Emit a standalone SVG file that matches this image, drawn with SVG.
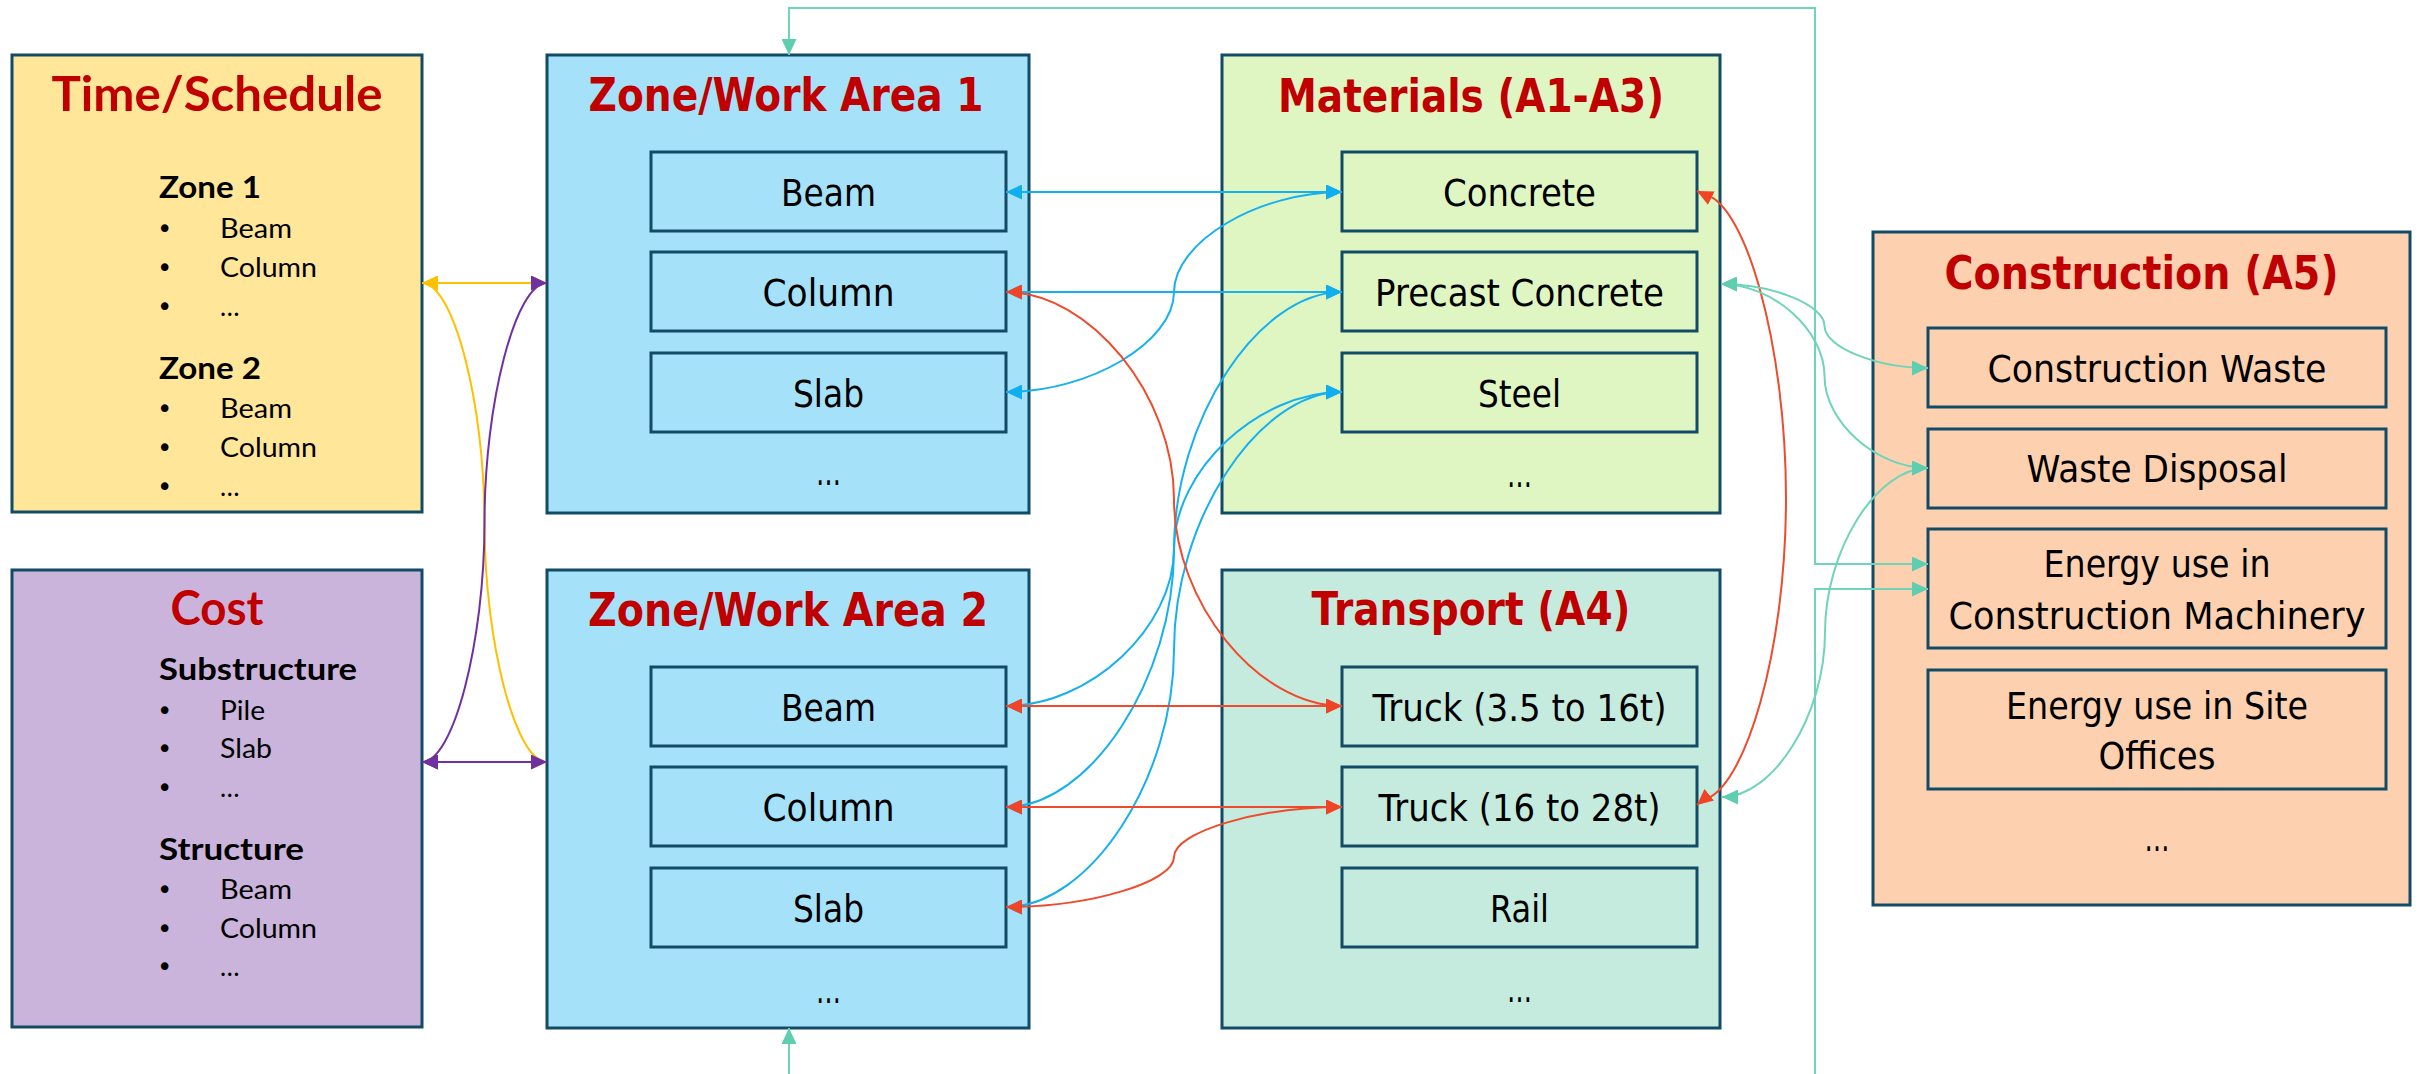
<svg xmlns="http://www.w3.org/2000/svg" width="2423" height="1074" viewBox="0 0 2423 1074">
  <defs>
    <style>
      .box { stroke: #124B66; stroke-width: 3; }
      .t-time { fill: #FFE699; }
      .t-cost { fill: #CAB4DB; }
      .t-zone { fill: #A5E2F9; }
      .t-mat { fill: #DFF6C3; }
      .t-trn { fill: #C5EBDF; }
      .t-con { fill: #FDD1AF; }
      .ttl { font-family: "DejaVu Sans", sans-serif; font-weight: bold; font-size: 46px; fill: #C00000; text-anchor: middle; }
      .ltl { font-family: Lato, "Open Sans", sans-serif; font-weight: bold; font-size: 47px; fill: #C00000; text-anchor: middle; }
      .lbl { font-family: "DejaVu Sans", sans-serif; font-size: 37px; fill: #000; text-anchor: middle; }
      .hd { font-family: Lato, "Open Sans", sans-serif; font-weight: bold; font-size: 30px; fill: #000; }
      .li { font-family: Lato, "Open Sans", sans-serif; font-size: 26px; fill: #000; }
      .bul { font-family: "DejaVu Sans", sans-serif; font-size: 26px; fill: #000; }
      .conn { fill: none; stroke-width: 2; }
      .blue { stroke: #15B0EE; }
      .red { stroke: #EF4A2B; }
      .teal { stroke: #70D4BA; }
      .yel { stroke: #FFC000; }
      .pur { stroke: #7030A0; }
    </style>
    <marker id="a-blue" viewBox="0 0 16 15" refX="16" refY="7.5" markerWidth="16" markerHeight="15" markerUnits="userSpaceOnUse" orient="auto-start-reverse"><path d="M0,0 L16,7.5 L0,15 z" fill="#0FAEEE"/></marker>
    <marker id="a-red" viewBox="0 0 16 15" refX="16" refY="7.5" markerWidth="16" markerHeight="15" markerUnits="userSpaceOnUse" orient="auto-start-reverse"><path d="M0,0 L16,7.5 L0,15 z" fill="#EF4426"/></marker>
    <marker id="a-teal" viewBox="0 0 16 15" refX="16" refY="7.5" markerWidth="16" markerHeight="15" markerUnits="userSpaceOnUse" orient="auto-start-reverse"><path d="M0,0 L16,7.5 L0,15 z" fill="#5ECDB0"/></marker>
    <marker id="a-yel" viewBox="0 0 16 15" refX="16" refY="7.5" markerWidth="16" markerHeight="15" markerUnits="userSpaceOnUse" orient="auto-start-reverse"><path d="M0,0 L16,7.5 L0,15 z" fill="#FFC000"/></marker>
    <marker id="a-pur" viewBox="0 0 16 15" refX="16" refY="7.5" markerWidth="16" markerHeight="15" markerUnits="userSpaceOnUse" orient="auto-start-reverse"><path d="M0,0 L16,7.5 L0,15 z" fill="#7030A0"/></marker>
  </defs>

  <rect width="2423" height="1074" fill="#FFFFFF"/>

  <!-- Time / schedule -->
  <g id="time-schedule">
    <rect class="box t-time" x="12" y="55" width="410" height="457"/>
    <text class="ltl" x="217" y="111" textLength="331" lengthAdjust="spacingAndGlyphs">Time/Schedule</text>
    <text class="hd" x="159" y="198" textLength="102" lengthAdjust="spacingAndGlyphs">Zone 1</text>
    <text class="bul" x="157" y="238">•</text><text class="li" x="220" y="238" textLength="72" lengthAdjust="spacingAndGlyphs">Beam</text>
    <text class="bul" x="157" y="277">•</text><text class="li" x="220" y="277" textLength="97" lengthAdjust="spacingAndGlyphs">Column</text>
    <text class="bul" x="157" y="316">•</text><text class="li" x="220" y="316">…</text>
    <text class="hd" x="159" y="379" textLength="102" lengthAdjust="spacingAndGlyphs">Zone 2</text>
    <text class="bul" x="157" y="418">•</text><text class="li" x="220" y="418" textLength="72" lengthAdjust="spacingAndGlyphs">Beam</text>
    <text class="bul" x="157" y="457">•</text><text class="li" x="220" y="457" textLength="97" lengthAdjust="spacingAndGlyphs">Column</text>
    <text class="bul" x="157" y="496">•</text><text class="li" x="220" y="496">…</text>
  </g>

  <!-- Cost -->
  <g id="cost">
    <rect class="box t-cost" x="12" y="570" width="410" height="457"/>
    <text class="ltl" x="217" y="625" textLength="93" lengthAdjust="spacingAndGlyphs">Cost</text>
    <text class="hd" x="159" y="680" textLength="198" lengthAdjust="spacingAndGlyphs">Substructure</text>
    <text class="bul" x="157" y="720">•</text><text class="li" x="220" y="720" textLength="45" lengthAdjust="spacingAndGlyphs">Pile</text>
    <text class="bul" x="157" y="758">•</text><text class="li" x="220" y="758" textLength="52" lengthAdjust="spacingAndGlyphs">Slab</text>
    <text class="bul" x="157" y="797">•</text><text class="li" x="220" y="797">…</text>
    <text class="hd" x="159" y="860" textLength="145" lengthAdjust="spacingAndGlyphs">Structure</text>
    <text class="bul" x="157" y="899">•</text><text class="li" x="220" y="899" textLength="72" lengthAdjust="spacingAndGlyphs">Beam</text>
    <text class="bul" x="157" y="938">•</text><text class="li" x="220" y="938" textLength="97" lengthAdjust="spacingAndGlyphs">Column</text>
    <text class="bul" x="157" y="976">•</text><text class="li" x="220" y="976">…</text>
  </g>

  <!-- Zone / work area 1 -->
  <g id="zone-1">
    <rect class="box t-zone" x="547" y="55" width="482" height="458"/>
    <text class="ttl" x="786" y="111" textLength="395" lengthAdjust="spacingAndGlyphs">Zone/Work Area 1</text>
    <rect class="box t-zone" x="651" y="152" width="355" height="79"/>
    <text class="lbl" x="828.5" y="206" textLength="95" lengthAdjust="spacingAndGlyphs">Beam</text>
    <rect class="box t-zone" x="651" y="252" width="355" height="79"/>
    <text class="lbl" x="828.5" y="306" textLength="132" lengthAdjust="spacingAndGlyphs">Column</text>
    <rect class="box t-zone" x="651" y="353" width="355" height="79"/>
    <text class="lbl" x="828.5" y="407" textLength="71" lengthAdjust="spacingAndGlyphs">Slab</text>
    <text class="lbl" x="828.5" y="485" textLength="25" lengthAdjust="spacingAndGlyphs">…</text>
  </g>

  <!-- Zone / work area 2 -->
  <g id="zone-2">
    <rect class="box t-zone" x="547" y="570" width="482" height="458"/>
    <text class="ttl" x="788" y="626" textLength="400" lengthAdjust="spacingAndGlyphs">Zone/Work Area 2</text>
    <rect class="box t-zone" x="651" y="667" width="355" height="79"/>
    <text class="lbl" x="828.5" y="721" textLength="95" lengthAdjust="spacingAndGlyphs">Beam</text>
    <rect class="box t-zone" x="651" y="767" width="355" height="79"/>
    <text class="lbl" x="828.5" y="821" textLength="132" lengthAdjust="spacingAndGlyphs">Column</text>
    <rect class="box t-zone" x="651" y="868" width="355" height="79"/>
    <text class="lbl" x="828.5" y="922" textLength="71" lengthAdjust="spacingAndGlyphs">Slab</text>
    <text class="lbl" x="828.5" y="1003" textLength="25" lengthAdjust="spacingAndGlyphs">…</text>
  </g>

  <!-- Materials A1-A3 -->
  <g id="materials">
    <rect class="box t-mat" x="1222" y="55" width="498" height="458"/>
    <text class="ttl" x="1471" y="112" textLength="386" lengthAdjust="spacingAndGlyphs">Materials (A1-A3)</text>
    <rect class="box t-mat" x="1342" y="152" width="355" height="79"/>
    <text class="lbl" x="1519.5" y="206" textLength="153" lengthAdjust="spacingAndGlyphs">Concrete</text>
    <rect class="box t-mat" x="1342" y="252" width="355" height="79"/>
    <text class="lbl" x="1519.5" y="306" textLength="289" lengthAdjust="spacingAndGlyphs">Precast Concrete</text>
    <rect class="box t-mat" x="1342" y="353" width="355" height="79"/>
    <text class="lbl" x="1519.5" y="407" textLength="83" lengthAdjust="spacingAndGlyphs">Steel</text>
    <text class="lbl" x="1519.5" y="487" textLength="25" lengthAdjust="spacingAndGlyphs">…</text>
  </g>

  <!-- Transport A4 -->
  <g id="transport">
    <rect class="box t-trn" x="1222" y="570" width="498" height="458"/>
    <text class="ttl" x="1471" y="625" textLength="319" lengthAdjust="spacingAndGlyphs">Transport (A4)</text>
    <rect class="box t-trn" x="1342" y="667" width="355" height="79"/>
    <text class="lbl" x="1519.5" y="721" textLength="294" lengthAdjust="spacingAndGlyphs">Truck (3.5 to 16t)</text>
    <rect class="box t-trn" x="1342" y="767" width="355" height="79"/>
    <text class="lbl" x="1519.5" y="821" textLength="282" lengthAdjust="spacingAndGlyphs">Truck (16 to 28t)</text>
    <rect class="box t-trn" x="1342" y="868" width="355" height="79"/>
    <text class="lbl" x="1519.5" y="922" textLength="59" lengthAdjust="spacingAndGlyphs">Rail</text>
    <text class="lbl" x="1519.5" y="1002" textLength="25" lengthAdjust="spacingAndGlyphs">…</text>
  </g>

  <!-- Construction A5 -->
  <g id="construction">
    <rect class="box t-con" x="1873" y="232" width="537" height="673"/>
    <text class="ttl" x="2141.5" y="289" textLength="394" lengthAdjust="spacingAndGlyphs">Construction (A5)</text>
    <rect class="box t-con" x="1928" y="328" width="458" height="79"/>
    <text class="lbl" x="2157" y="382" textLength="339" lengthAdjust="spacingAndGlyphs">Construction Waste</text>
    <rect class="box t-con" x="1928" y="429" width="458" height="79"/>
    <text class="lbl" x="2157" y="482" textLength="261" lengthAdjust="spacingAndGlyphs">Waste Disposal</text>
    <rect class="box t-con" x="1928" y="529" width="458" height="119"/>
    <text class="lbl" x="2157" y="577" textLength="227" lengthAdjust="spacingAndGlyphs">Energy use in</text>
    <text class="lbl" x="2157" y="629" textLength="417" lengthAdjust="spacingAndGlyphs">Construction Machinery</text>
    <rect class="box t-con" x="1928" y="670" width="458" height="119"/>
    <text class="lbl" x="2157" y="719" textLength="302" lengthAdjust="spacingAndGlyphs">Energy use in Site</text>
    <text class="lbl" x="2157" y="769" textLength="117" lengthAdjust="spacingAndGlyphs">Offices</text>
    <text class="lbl" x="2157" y="851" textLength="25" lengthAdjust="spacingAndGlyphs">…</text>
  </g>

  <!-- Connectors -->
  <g id="connectors">
    <!-- schedule / cost to zones -->
    <path class="conn yel" marker-start="url(#a-yel)" marker-end="url(#a-yel)" d="M422,283 H547"/>
    <path class="conn yel" marker-start="url(#a-yel)" marker-end="url(#a-yel)" d="M422,283 C453.25,283 484.5,402.75 484.5,522.5 C484.5,642.25 515.75,762 547,762"/>
    <path class="conn pur" marker-start="url(#a-pur)" marker-end="url(#a-pur)" d="M422,762 C453.25,762 484.5,642.25 484.5,522.5 C484.5,402.75 515.75,283 547,283"/>
    <path class="conn pur" marker-start="url(#a-pur)" marker-end="url(#a-pur)" d="M422,762 H547"/>

    <!-- zones to materials -->
    <path class="conn blue" marker-start="url(#a-blue)" marker-end="url(#a-blue)" d="M1006,192 H1342"/>
    <path class="conn blue" marker-start="url(#a-blue)" marker-end="url(#a-blue)" d="M1006,292 H1342"/>
    <path class="conn blue" marker-start="url(#a-blue)" marker-end="url(#a-blue)" d="M1006,392 C1090,392 1174,342 1174,292 C1174,242 1258,192 1342,192"/>
    <path class="conn blue" marker-start="url(#a-blue)" marker-end="url(#a-blue)" d="M1006,706 C1090,706 1174,627.5 1174,549 C1174,470.5 1258,392 1342,392"/>
    <path class="conn blue" marker-start="url(#a-blue)" marker-end="url(#a-blue)" d="M1006,807 C1090,807 1174,678.25 1174,549.5 C1174,420.75 1258,292 1342,292"/>
    <path class="conn blue" marker-start="url(#a-blue)" marker-end="url(#a-blue)" d="M1006,907 C1090,907 1174,778.25 1174,649.5 C1174,520.75 1258,392 1342,392"/>

    <!-- zones to transport -->
    <path class="conn red" marker-start="url(#a-red)" marker-end="url(#a-red)" d="M1006,292 C1090,292 1174,395.5 1174,499 C1174,602.5 1258,706 1342,706"/>
    <path class="conn red" marker-start="url(#a-red)" marker-end="url(#a-red)" d="M1006,706 H1342"/>
    <path class="conn red" marker-start="url(#a-red)" marker-end="url(#a-red)" d="M1006,807 H1342"/>
    <path class="conn red" marker-start="url(#a-red)" marker-end="url(#a-red)" d="M1006,907 C1090,907 1174,882 1174,857 C1174,832 1258,807 1342,807"/>
    <path class="conn red" marker-start="url(#a-red)" marker-end="url(#a-red)" d="M1697,191 l6,3 C1745,200 1786,344.5 1786,498 C1786,651.5 1745,790 1703,800 l-6,5"/>

    <!-- construction links -->
    <path class="conn teal" marker-start="url(#a-teal)" marker-end="url(#a-teal)" d="M789,55 V8 H1815 V564 H1928"/>
    <path class="conn teal" marker-start="url(#a-teal)" marker-end="url(#a-teal)" d="M789,1028 V1090 H1815 V589 H1928"/>
    <path class="conn teal" marker-start="url(#a-teal)" marker-end="url(#a-teal)" d="M1721,284 C1772.75,284 1824.5,305 1824.5,326 C1824.5,347 1876.25,368 1928,368"/>
    <path class="conn teal" marker-start="url(#a-teal)" marker-end="url(#a-teal)" d="M1721,284 C1772.75,284 1824.5,330 1824.5,376 C1824.5,422 1876.25,468 1928,468"/>
    <path class="conn teal" marker-start="url(#a-teal)" marker-end="url(#a-teal)" d="M1722,797 C1773.5,797 1825,714.75 1825,632.5 C1825,550.25 1876.5,468 1928,468"/>
  </g>
</svg>
